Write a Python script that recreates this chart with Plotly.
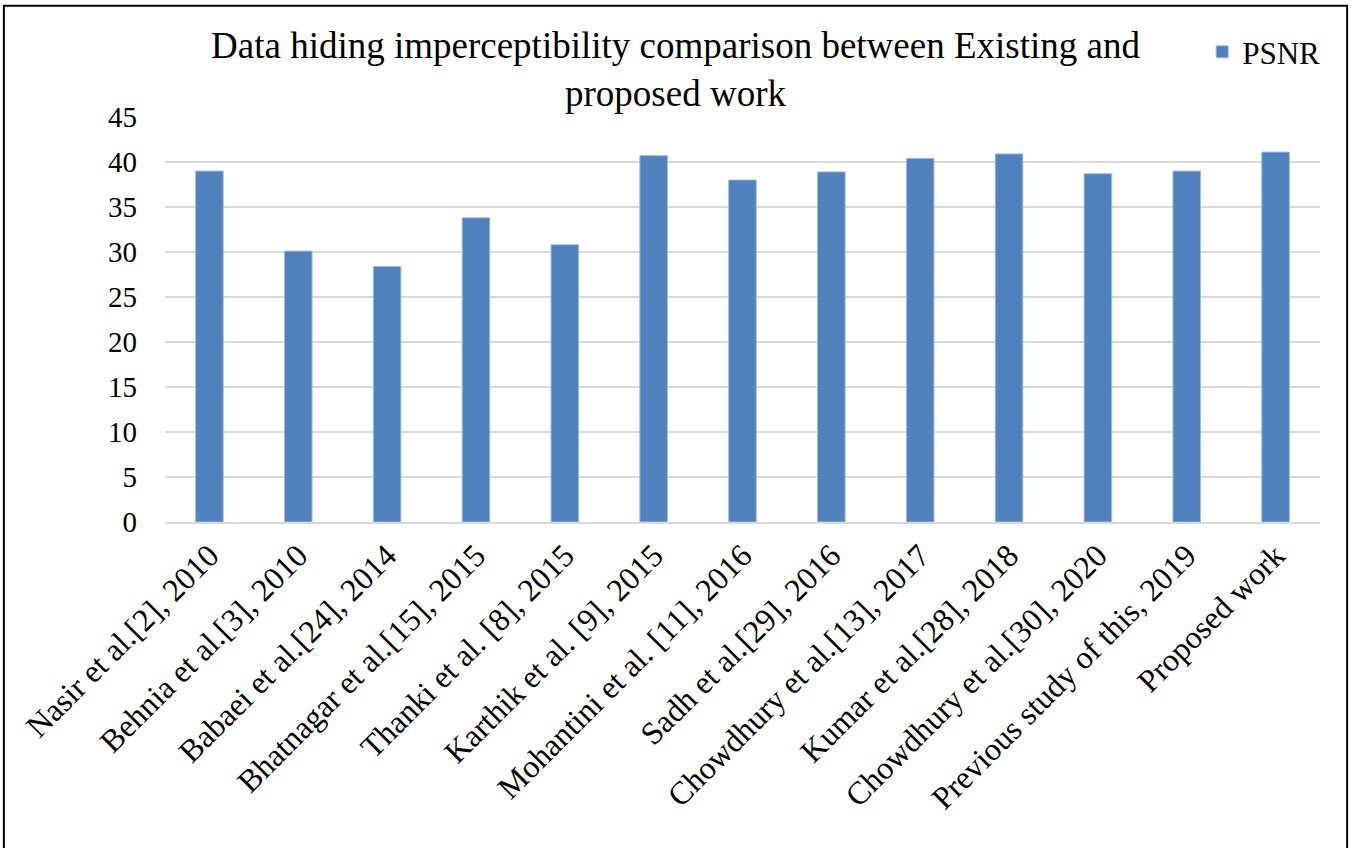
import plotly.graph_objects as go

# PSNR (dB) reported by each method
methods = [
    "Nasir et al.[2], 2010",
    "Behnia et al.[3], 2010",
    "Babaei et al.[24], 2014",
    "Bhatnagar et al.[15], 2015",
    "Thanki et al. [8], 2015",
    "Karthik et al. [9], 2015",
    "Mohantini et al. [11], 2016",
    "Sadh et al.[29], 2016",
    "Chowdhury et al.[13], 2017",
    "Kumar et al.[28], 2018",
    "Chowdhury et al.[30], 2020",
    "Previous study of this, 2019",
    "Proposed work",
]
psnr = [39.0, 30.1, 28.4, 33.8, 30.8, 40.7, 38.0, 38.9, 40.4, 40.9, 38.7, 39.0, 41.1]
y_ticks = [0, 5, 10, 15, 20, 25, 30, 35, 40, 45]

SERIF = "Liberation Serif, Times New Roman, serif"

fig = go.Figure(
    go.Bar(
        x=methods,
        y=psnr,
        name="PSNR",
        marker=dict(color="#4F81BD", line=dict(color="#9DB9DE", width=1)),
        showlegend=True,
    )
)

fig.update_layout(
    width=1351,
    height=848,
    paper_bgcolor="white",
    plot_bgcolor="white",
    font=dict(family=SERIF, color="black"),
    margin=dict(l=165, r=31, t=117, b=326),
    bargap=0.69,
    title=dict(
        text="Data hiding imperceptibility comparison between Existing and<br>proposed work",
        x=0.5,
        xanchor="center",
        y=0.932,
        yanchor="middle",
        font=dict(family=SERIF, size=37, color="black"),
    ),
    legend=dict(
        x=0.898,
        xanchor="left",
        y=1.16,
        yanchor="middle",
        font=dict(family=SERIF, size=31, color="black"),
        bgcolor="rgba(0,0,0,0)",
        itemwidth=30,
    ),
    xaxis=dict(
        tickangle=-45,
        tickfont=dict(family=SERIF, size=32, color="black"),
        showgrid=False,
        showline=True,
        linecolor="#D9D9D9",
        linewidth=2,
        ticks="",
    ),
    yaxis=dict(
        range=[0, 45],
        tickvals=y_ticks,
        tickfont=dict(family=SERIF, size=29, color="black"),
        showgrid=True,
        gridcolor="#D9D9D9",
        gridwidth=2,
        zeroline=False,
        showline=False,
        ticks="",
        ticklabelstandoff=27,
    ),
    shapes=[
        dict(
            type="rect",
            xref="paper",
            yref="paper",
            x0=-0.1395,
            x1=1.0235,
            y0=-0.9,
            y1=1.2745,
            line=dict(color="black", width=2),
            fillcolor="rgba(0,0,0,0)",
            layer="below",
        )
    ],
)

fig.write_html("out.html")
